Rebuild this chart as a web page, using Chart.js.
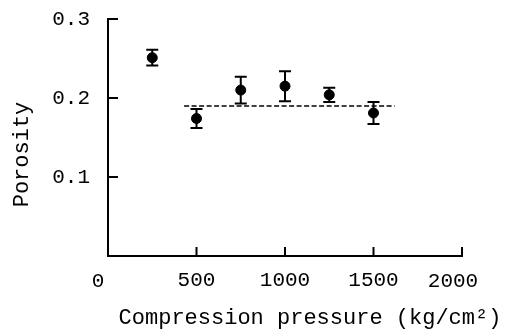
<!DOCTYPE html>
<html>
<head>
<meta charset="utf-8">
<script src="https://cdn.jsdelivr.net/npm/chart.js@4"></script>
<style>
  body { margin: 0; background: #fff; }
  canvas { display: block; }
</style>
</head>
<body>
<canvas id="chart" width="508" height="331"></canvas>
<script>
// Data
const pressures = [250, 500, 750, 1000, 1250, 1500];
const porosity = [0.251, 0.174, 0.210, 0.215, 0.204, 0.181];
const errors = [0.010, 0.012, 0.017, 0.019, 0.009, 0.014];
const meanLineX = [430, 1620];
const meanLineY = [0.19, 0.19];
const xTicks = [0, 500, 1000, 1500, 2000];
const yTicks = [0.1, 0.2, 0.3];

const FONT = { family: '"Liberation Mono", monospace', size: 21 };

// Error bars, inward tick marks, the shifted end labels and axis titles
const extras = {
    id: 'extras',
    afterDatasetsDraw(chart) {
        const ctx = chart.ctx;
        const x = chart.scales.x, y = chart.scales.y;
        ctx.save();
        ctx.strokeStyle = '#000';
        ctx.lineWidth = 2;
        pressures.forEach(function(p, i) {
            const px = x.getPixelForValue(p);
            const top = y.getPixelForValue(porosity[i] + errors[i]);
            const bot = y.getPixelForValue(porosity[i] - errors[i]);
            ctx.beginPath();
            ctx.moveTo(px, top); ctx.lineTo(px, bot);
            ctx.moveTo(px - 6, top); ctx.lineTo(px + 6, top);
            ctx.moveTo(px - 6, bot); ctx.lineTo(px + 6, bot);
            ctx.stroke();
        });
        ctx.restore();
    },
    afterDraw(chart) {
        const ctx = chart.ctx;
        const x = chart.scales.x, y = chart.scales.y;
        const area = chart.chartArea;
        ctx.save();
        ctx.strokeStyle = '#000';
        ctx.lineWidth = 2;
        ctx.beginPath();
        xTicks.forEach(function(v) {
            if (v === 0) return;
            const px = x.getPixelForValue(v);
            ctx.moveTo(px, area.bottom); ctx.lineTo(px, area.bottom - 9);
        });
        yTicks.forEach(function(v) {
            const py = y.getPixelForValue(v);
            ctx.moveTo(area.left, py); ctx.lineTo(area.left + 10, py);
        });
        ctx.stroke();

        ctx.fillStyle = '#000';
        ctx.font = FONT.size + 'px ' + FONT.family;
        ctx.textAlign = 'center';
        ctx.textBaseline = 'middle';
        // the end labels sit a little left of their ticks in the original
        ctx.fillText('0', x.getPixelForValue(0) - 10, 281);
        ctx.fillText('2000', x.getPixelForValue(2000) - 9, 281);
        ctx.font = '22px ' + FONT.family;
        ctx.fillText('Compression pressure (kg/cm\u00b2)', (area.left + area.right) / 2 + 25, 318);
        ctx.translate(22, (area.top + area.bottom) / 2 + 17);
        ctx.rotate(-Math.PI / 2);
        ctx.fillText('Porosity', 0, 0);
        ctx.restore();
    }
};

document.addEventListener('DOMContentLoaded', function() {
    const ctx = document.getElementById('chart').getContext('2d');
    new Chart(ctx, {
        type: 'scatter',
        data: {
            datasets: [{
                label: 'Porosity',
                data: pressures.map(function(p, i) { return { x: p, y: porosity[i] }; }),
                pointRadius: 5,
                pointBackgroundColor: '#000',
                pointBorderColor: '#000',
                showLine: false
            }, {
                label: 'Mean',
                data: meanLineX.map(function(p, i) { return { x: p, y: meanLineY[i] }; }),
                showLine: true,
                borderColor: '#000',
                borderWidth: 1.5,
                borderDash: [5, 2.5],
                pointRadius: 0
            }]
        },
        options: {
            responsive: false,
            animation: false,
            layout: { padding: { top: 19, right: 46, left: 0, bottom: 0 } },
            plugins: {
                legend: { display: false },
                tooltip: { enabled: false }
            },
            scales: {
                x: {
                    type: 'linear',
                    min: 0,
                    max: 2000,
                    afterFit: function(s) { s.height = 75; s.paddingLeft = 0; s.paddingRight = 0; },
                    afterBuildTicks: function(s) { s.ticks = xTicks.map(function(v) { return { value: v }; }); },
                    grid: { display: false, drawTicks: false },
                    border: { display: true, color: '#000', width: 2 },
                    ticks: {
                        color: '#000', font: FONT, padding: 12, maxRotation: 0,
                        callback: function(v) { return (v === 0 || v === 2000) ? '' : String(v); }
                    }
                },
                y: {
                    min: 0,
                    max: 0.3,
                    afterFit: function(s) { s.width = 108; s.paddingTop = 0; s.paddingBottom = 0; },
                    afterBuildTicks: function(s) { s.ticks = yTicks.map(function(v) { return { value: v }; }); },
                    grid: { display: false, drawTicks: false },
                    border: { display: true, color: '#000', width: 2 },
                    ticks: {
                        color: '#000', font: FONT, padding: 18,
                        callback: function(v) { return v.toFixed(1); }
                    }
                }
            }
        },
        plugins: [extras]
    });
});
</script>
</body>
</html>
